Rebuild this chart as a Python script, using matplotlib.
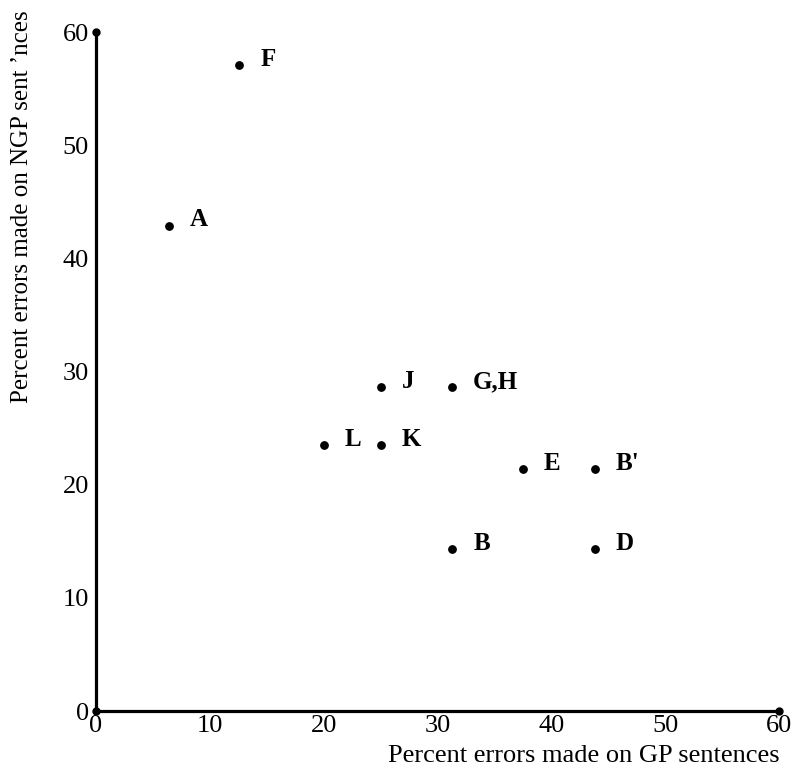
import matplotlib
matplotlib.use("Agg")
import matplotlib.pyplot as plt

labels = ["F", "A", "J", "G,H", "L", "K", "E", "B'", "B", "D"]
gp_errors = [12.6, 6.4, 25.0, 31.3, 20.0, 25.0, 37.5, 43.8, 31.3, 43.8]
ngp_errors = [57.1, 42.9, 28.6, 28.6, 23.5, 23.5, 21.4, 21.4, 14.3, 14.3]
ticks = [0, 10, 20, 30, 40, 50, 60]

plt.rcParams['font.family'] = ['Liberation Serif', 'DejaVu Serif']

fig = plt.figure(figsize=(7.95, 7.72), dpi=100)
ax = fig.add_axes([0.1208, 0.079, 0.8592, 0.8795])
ax.scatter(gp_errors, ngp_errors, s=28, color='black', zorder=3)
for lab, x, y in zip(labels, gp_errors, ngp_errors):
    ax.annotate(lab, (x, y), xytext=(15, 4), textcoords='offset points',
                fontsize=18, fontweight='bold', va='center', ha='left')

ax.set_xlim(0, 60)
ax.set_ylim(0, 60)
ax.set_xticks(ticks)
ax.set_yticks(ticks)
ax.tick_params(length=0, labelsize=19)
ax.tick_params(axis='y', pad=5)
ax.tick_params(axis='x', pad=3)
for s in ['top', 'right']:
    ax.spines[s].set_visible(False)
for s in ['left', 'bottom']:
    ax.spines[s].set_linewidth(2.3)
ax.plot([0, 0, 60], [60, 0, 0], 'o', color='black', ms=5, clip_on=False, zorder=4)

fig.text(0.981, 0.006, "Percent errors made on GP sentences", ha='right', va='bottom', fontsize=19)
fig.text(0.028, 0.732, "Percent errors made on NGP sent \u2019nces", rotation=90,
         ha='center', va='center', fontsize=18)

fig.savefig("out.png", dpi=100)
